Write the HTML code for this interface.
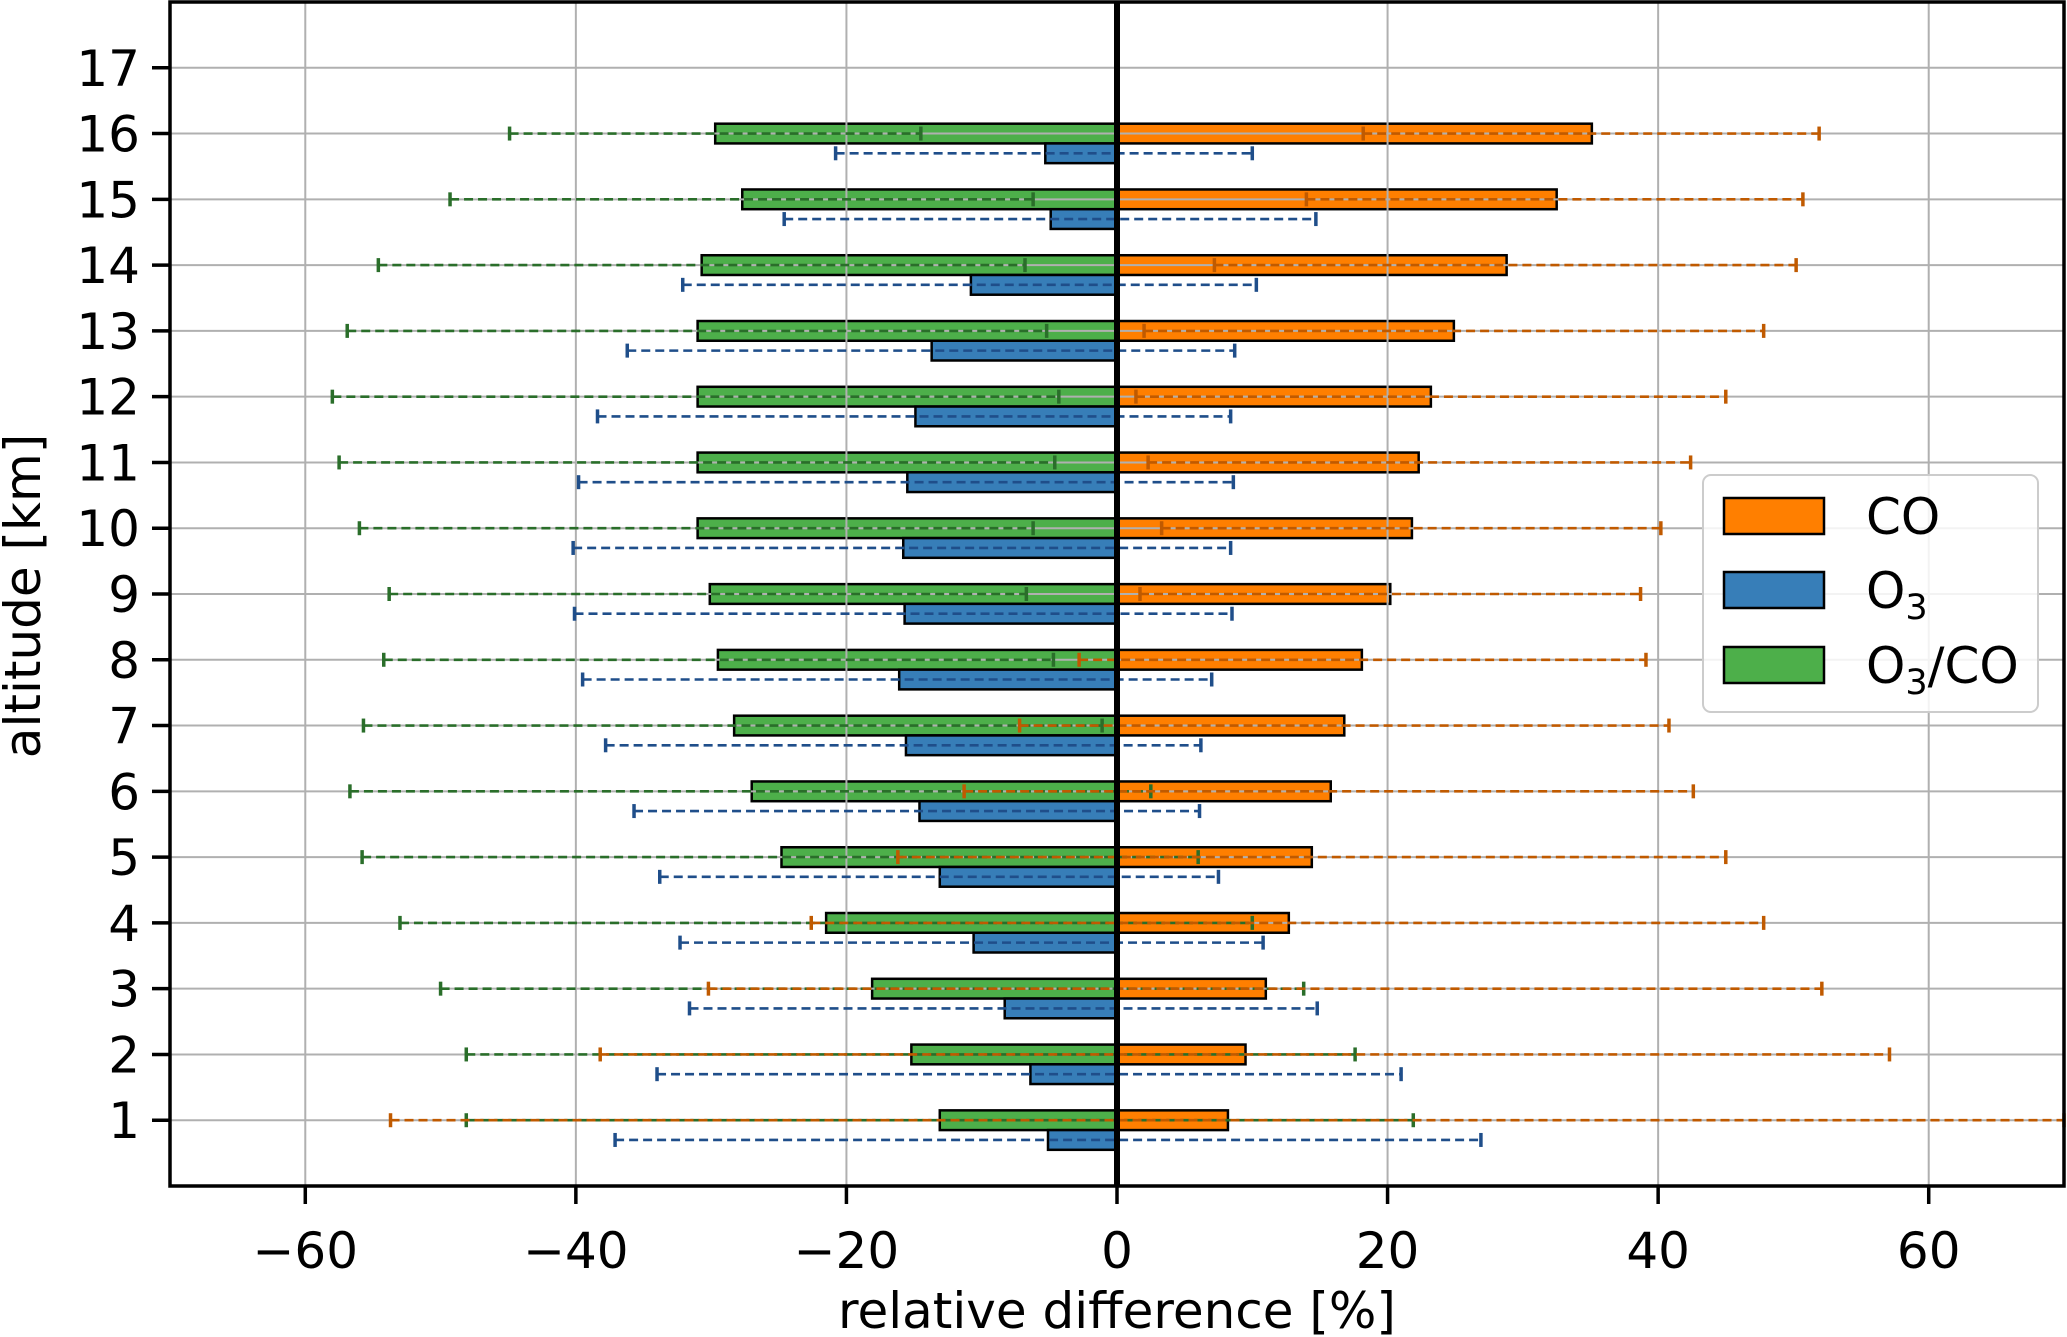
<!DOCTYPE html>
<html><head><meta charset="utf-8"><style>
html,body{margin:0;padding:0;background:#fff}
svg{display:block;font-family:"DejaVu Sans","Liberation Sans",sans-serif}
</style></head><body>
<svg id="chart" width="2067" height="1337" viewBox="0 0 2067 1337" xmlns="http://www.w3.org/2000/svg">
<g id="bars"></g>
<g id="grid"></g>
<g id="errs"></g>
<g id="axes"></g>
<text x="1117" y="1328" font-size="50" text-anchor="middle">relative difference [%]</text>
<text transform="translate(40,596) rotate(-90)" font-size="50" text-anchor="middle">altitude [km]</text>
<g>
<rect x="1703" y="475" width="335" height="237" rx="8" fill="#fff" fill-opacity="0.85" stroke="#ccc" stroke-width="2"/>
<rect x="1724" y="498" width="100" height="36" fill="#ff7f00" stroke="#000" stroke-width="2.5"/>
<text x="1866" y="534" font-size="50">CO</text>
<rect x="1724" y="572" width="100" height="36" fill="#377eb8" stroke="#000" stroke-width="2.5"/>
<text x="1866" y="608" font-size="50">O<tspan font-size="35" dy="11">3</tspan></text>
<rect x="1724" y="647" width="100" height="36" fill="#4daf4a" stroke="#000" stroke-width="2.5"/>
<text x="1866" y="683" font-size="50">O<tspan font-size="35" dy="11">3</tspan><tspan dy="-11">/CO</tspan></text>
</g>
</svg>
<script>
const altitudes = [1,2,3,4,5,6,7,8,9,10,11,12,13,14,15,16];
const coValues = [8.2,9.5,11,12.7,14.4,15.8,16.8,18.1,20.2,21.8,22.3,23.2,24.9,28.8,32.5,35.1];
const coLow = [-53.7,-38.2,-30.2,-22.6,-16.2,-11.3,-7.2,-2.8,1.7,3.3,2.3,1.4,2.0,7.2,14,18.2];
const coHigh = [70,57.1,52.1,47.8,45,42.6,40.8,39.1,38.7,40.2,42.4,45,47.8,50.2,50.7,51.9];
const o3Values = [-5.1,-6.4,-8.3,-10.6,-13.1,-14.6,-15.6,-16.1,-15.7,-15.8,-15.5,-14.9,-13.7,-10.8,-4.9,-5.3];
const o3Low = [-37.1,-34,-31.6,-32.3,-33.8,-35.7,-37.8,-39.5,-40.1,-40.2,-39.8,-38.4,-36.2,-32.1,-24.6,-20.8];
const o3High = [26.9,21,14.8,10.8,7.5,6.1,6.2,7,8.5,8.4,8.6,8.4,8.7,10.3,14.7,10];
const ratioValues = [-13.1,-15.2,-18.1,-21.5,-24.8,-27,-28.3,-29.5,-30.1,-31,-31,-31,-31,-30.7,-27.7,-29.7];
const ratioLow = [-48.1,-48.1,-50,-53,-55.8,-56.7,-55.7,-54.2,-53.8,-56,-57.5,-58,-56.9,-54.6,-49.3,-44.9];
const ratioHigh = [21.9,17.6,13.8,10,6,2.5,-1.1,-4.7,-6.7,-6.2,-4.6,-4.3,-5.2,-6.8,-6.2,-14.5];
const xTicks = [-60,-40,-20,0,20,40,60];
const yTicks = [1,2,3,4,5,6,7,8,9,10,11,12,13,14,15,16,17];

const NS='http://www.w3.org/2000/svg';
const L=170,R=2064,T=2,B=1186,XMIN=-70,XMAX=70,YMIN=0,YMAX=18;
const xs=v=>L+(v-XMIN)/(XMAX-XMIN)*(R-L);
const ys=v=>B-(v-YMIN)/(YMAX-YMIN)*(B-T);
const H=0.3;
function mk(tag,attrs,parent){const e=document.createElementNS(NS,tag);for(const k in attrs)e.setAttribute(k,attrs[k]);parent.appendChild(e);return e;}
const gB=document.getElementById('bars'),gG=document.getElementById('grid'),gE=document.getElementById('errs'),gA=document.getElementById('axes');

function bar(v,yc,fill,name){
  const x0=Math.min(xs(0),xs(v)),w=Math.abs(xs(v)-xs(0));
  const r=mk('rect',{x:x0,y:ys(yc+H/2),width:w,height:ys(yc-H/2)-ys(yc+H/2),fill:fill,stroke:'#000','stroke-width':2.5},gB);
  
  
}
function err(lo,hi,yc,col,name){
  const g=mk('g',{},gE);
  
  
  const y=ys(yc);
  mk('line',{x1:xs(lo),x2:xs(hi),y1:y,y2:y,stroke:col,'stroke-width':2.6,'stroke-dasharray':'9,5'},g);
  mk('line',{x1:xs(lo),x2:xs(lo),y1:y-7,y2:y+7,stroke:col,'stroke-width':3.5},g);
  mk('line',{x1:xs(hi),x2:xs(hi),y1:y-7,y2:y+7,stroke:col,'stroke-width':3.5},g);
}
altitudes.forEach((a,i)=>{
  bar(ratioValues[i],a,'#4daf4a','bar-o3-co-'+a);
  bar(o3Values[i],a-H,'#377eb8','bar-o3-'+a);
  bar(coValues[i],a,'#ff7f00','bar-co-'+a);
});
xTicks.forEach(t=>{const l=mk('line',{x1:xs(t),x2:xs(t),y1:T,y2:B,stroke:'#b0b0b0','stroke-width':2},gG);

});
yTicks.forEach(t=>{const l=mk('line',{x1:L,x2:R,y1:ys(t),y2:ys(t),stroke:'#b0b0b0','stroke-width':2},gG);

});
altitudes.forEach((a,i)=>{
  err(ratioLow[i],ratioHigh[i],a,'#2a6e2a','errorbar-o3-co-'+a);
  err(coLow[i],coHigh[i],a,'#c05a00','errorbar-co-'+a);
  err(o3Low[i],o3High[i],a-H,'#1f4e8a','errorbar-o3-'+a);
});
const z=mk('line',{x1:xs(0),x2:xs(0),y1:T,y2:B,stroke:'#000','stroke-width':6},gA);


const f=mk('rect',{x:L,y:T,width:R-L,height:B-T,fill:'none',stroke:'#000','stroke-width':3.5},gA);


xTicks.forEach(t=>{
  mk('line',{x1:xs(t),x2:xs(t),y1:B,y2:B+18,stroke:'#000','stroke-width':3.5},gA);
  const tx=mk('text',{x:xs(t),y:B+82,'font-size':50,'text-anchor':'middle'},gA);
  tx.textContent=(t<0?'\u2212'+(-t):String(t));
  
  
});
yTicks.forEach(t=>{
  mk('line',{x1:L-18,x2:L,y1:ys(t),y2:ys(t),stroke:'#000','stroke-width':3.5},gA);
  const tx=mk('text',{x:L-30,y:ys(t)+18,'font-size':50,'text-anchor':'end'},gA);
  tx.textContent=String(t);
  
  
});
</script>
</body></html>
